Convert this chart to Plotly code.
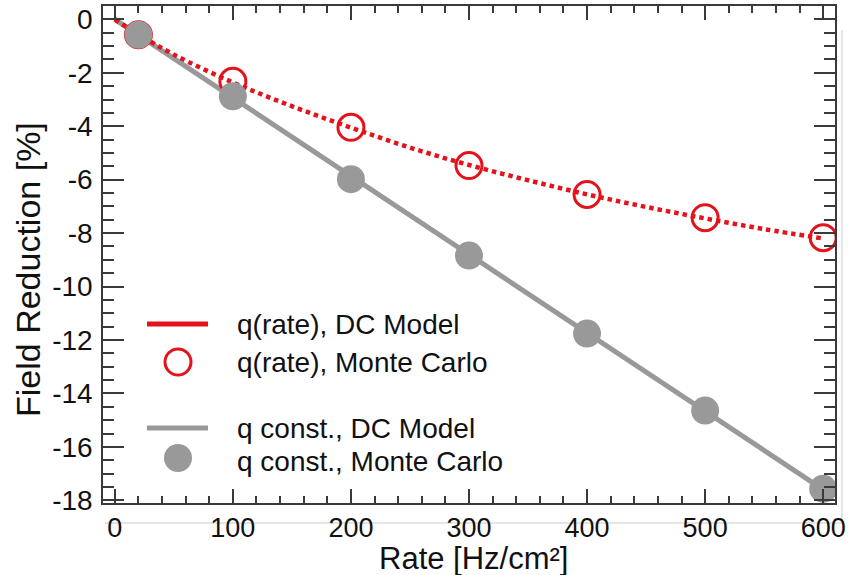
import plotly.graph_objects as go

# ---- data ----
rate_mc = [20, 100, 200, 300, 400, 500, 600]
qrate_mc = [-0.58, -2.32, -4.04, -5.47, -6.55, -7.42, -8.17]
qconst_mc = [-0.58, -2.88, -5.98, -8.84, -11.76, -14.64, -17.57]

rate_dc_rate = [0, 20, 50, 100, 150, 200, 250, 300, 350, 400, 450, 500, 550, 600]
qrate_dc = [0.0, -0.56, -1.32, -2.36, -3.25, -4.05, -4.8, -5.45, -6.02, -6.55, -7.02, -7.45, -7.85, -8.2]

rate_dc_const = [0, 600]
qconst_dc = [0.0, -17.6]

x_tickvals = [0, 100, 200, 300, 400, 500, 600]
x_ticktext = ["0", "100", "200", "300", "400", "500", "600"]
y_tickvals = [0, -2, -4, -6, -8, -10, -12, -14, -16, -18]
y_ticktext = ["0", "-2", "-4", "-6", "-8", "-10", "-12", "-14", "-16", "-18"]

legend_labels = ["q(rate), DC Model", "q(rate), Monte Carlo",
                 "q const., DC Model", "q const., Monte Carlo"]
x_title = "Rate [Hz/cm²]"
y_title = "Field Reduction [%]"

RED = "#e3121b"
GRAY = "#999999"
FONT = "Liberation Sans, Arial, Helvetica, sans-serif"
AX = "#3a3a3a"
TXT = "#111111"

fig = go.Figure()
fig.add_trace(go.Scatter(x=rate_dc_const, y=qconst_dc, mode="lines",
                         line=dict(color=GRAY, width=5), showlegend=False))
fig.add_trace(go.Scatter(x=rate_dc_rate, y=qrate_dc, mode="lines",
                         line=dict(color=RED, width=4.5, dash="4.5px,4px", shape="spline"),
                         showlegend=False))
fig.add_trace(go.Scatter(x=rate_mc, y=qrate_mc, mode="markers",
                         marker=dict(size=26, color="rgba(0,0,0,0)",
                                     line=dict(color=RED, width=3)),
                         showlegend=False))
fig.add_trace(go.Scatter(x=rate_mc, y=qconst_mc, mode="markers",
                         marker=dict(size=28, color=GRAY, line=dict(width=0)),
                         showlegend=False))

# ---- plot area geometry (pixels) ----
L, R, T, B = 103, 835, 6, 503
W, H = 848, 575
pw, ph = R - L, B - T

def px(x):
    return (x - L) / pw

def py(y):
    return (B - y) / ph

shapes = []
annotations = []
# custom legend
leg_rows = [324, 362, 428, 461]
for i, (lab, yy) in enumerate(zip(legend_labels, leg_rows)):
    if i == 0 or i == 2:
        col = RED if i == 0 else GRAY
        shapes.append(dict(type="line", xref="paper", yref="paper",
                           x0=px(147), x1=px(208), y0=py(yy), y1=py(yy),
                           line=dict(color=col, width=5)))
    elif i == 1:
        shapes.append(dict(type="circle", xref="paper", yref="paper",
                           xsizemode="pixel", ysizemode="pixel",
                           xanchor=px(178), yanchor=py(yy),
                           x0=-13, x1=13, y0=-13, y1=13,
                           line=dict(color=RED, width=3), fillcolor="rgba(0,0,0,0)"))
    else:
        shapes.append(dict(type="circle", xref="paper", yref="paper",
                           xsizemode="pixel", ysizemode="pixel",
                           xanchor=px(178), yanchor=py(yy - 3),
                           x0=-14, x1=14, y0=-14, y1=14,
                           line=dict(width=0), fillcolor=GRAY))
    annotations.append(dict(text=lab, xref="paper", yref="paper",
                            x=px(235), y=py(yy), xanchor="left", yanchor="middle",
                            showarrow=False,
                            font=dict(family=FONT, size=28, color=TXT)))

# axis titles
annotations.append(dict(text=x_title, xref="paper", yref="paper",
                        x=px(473), y=py(558), xanchor="center", yanchor="middle",
                        showarrow=False, font=dict(family=FONT, size=31, color=TXT)))
annotations.append(dict(text=y_title, xref="paper", yref="paper", textangle=-90,
                        x=px(28), y=py(270), xanchor="center", yanchor="middle",
                        showarrow=False, font=dict(family=FONT, size=34, color=TXT)))

# faint frame shadow
shapes.append(dict(type="line", xref="paper", yref="paper",
                   x0=px(842), x1=px(842), y0=py(30), y1=py(523),
                   line=dict(color="#dddddd", width=1.5), layer="below"))
shapes.append(dict(type="line", xref="paper", yref="paper",
                   x0=px(105), x1=px(842), y0=py(523), y1=py(523),
                   line=dict(color="#dddddd", width=1.5), layer="below"))

fig.update_layout(
    width=W, height=H,
    margin=dict(l=L, r=W - R, t=T, b=H - B),
    paper_bgcolor="white", plot_bgcolor="white",
    font=dict(family=FONT, size=28, color=TXT),
    shapes=shapes, annotations=annotations,
    showlegend=False,
)

fig.update_xaxes(
    range=[-10, 610], tickmode="array", tickvals=x_tickvals, ticktext=x_ticktext,
    showgrid=False, zeroline=False, automargin=False,
    showline=True, linecolor=AX, linewidth=1.5, mirror="ticks",
    ticks="inside", ticklen=14, tickwidth=1.5, tickcolor=AX,
    minor=dict(dtick=20, tick0=0, ticks="inside", ticklen=7, tickwidth=1.5, tickcolor=AX),
    tickfont=dict(family=FONT, size=27, color=TXT),
)
fig.update_yaxes(
    range=[-18.1, 0.5], tickmode="array", tickvals=y_tickvals, ticktext=y_ticktext,
    showgrid=False, zeroline=False, automargin=False,
    showline=True, linecolor=AX, linewidth=1.5, mirror="ticks",
    ticks="inside", ticklen=21, tickwidth=1.5, tickcolor=AX,
    minor=dict(dtick=0.5, tick0=0, ticks="inside", ticklen=11, tickwidth=1.5, tickcolor=AX),
    tickfont=dict(family=FONT, size=28, color=TXT),
    ticklabelstandoff=3,
)

fig.write_html("out.html")
